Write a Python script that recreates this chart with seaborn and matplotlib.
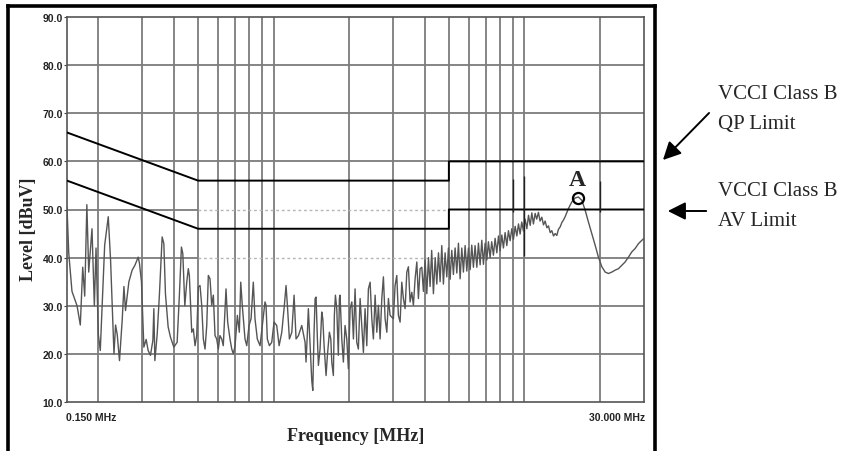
import matplotlib
matplotlib.use("Agg")
import matplotlib.pyplot as plt
from matplotlib.lines import Line2D
from matplotlib.ticker import NullLocator
import pandas as pd
import seaborn as sns

# ---------------- data ----------------
seg_a_freq = [0.150, 0.1524, 0.157, 0.162, 0.1645, 0.1695, 0.1733, 0.1765, 0.180, 0.1831,
              0.1887, 0.1928, 0.1958, 0.200, 0.2036, 0.212, 0.2191, 0.2238, 0.2309, 0.2343,
              0.2379, 0.2429, 0.249, 0.253, 0.2567, 0.2648, 0.2729, 0.2798, 0.2884, 0.2918,
              0.2972, 0.3038, 0.3103, 0.3160, 0.3228, 0.3300, 0.3330, 0.3361, 0.3433, 0.3506,
              0.3594, 0.3650, 0.3704, 0.3797, 0.3878, 0.400, 0.4124, 0.4212, 0.4290, 0.4345,
              0.4425]
seg_a_level = [50.5, 41, 33, 31, 30, 26, 38, 32, 51, 37,
               46, 30, 42, 24, 20.7, 42.6, 48.5, 39.5, 20, 26,
               24, 18.6, 27, 34, 29, 35, 37.4, 38.4, 40.1, 38.8,
               35, 21.4, 23, 20.7, 19.7, 22.8, 29.4, 18.6, 24, 32.5,
               44.3, 42.9, 32.5, 25.6, 23.5, 21.4, 22.4, 32.5, 42.2, 40.8,
               30]

seg_b_freq = [0.4504, 0.457, 0.4613, 0.4715, 0.4785, 0.486, 0.4936, 0.501, 0.5088, 0.5168,
              0.5245, 0.5328, 0.5412, 0.5492, 0.5577, 0.5665, 0.575, 0.584, 0.593, 0.602,
              0.611, 0.621, 0.630, 0.646, 0.656, 0.670, 0.681, 0.691, 0.702, 0.717,
              0.730, 0.7395, 0.750, 0.769, 0.7815, 0.798, 0.813, 0.830, 0.843, 0.861,
              0.883, 0.905, 0.924, 0.933, 0.944, 0.962, 0.983, 1.004, 1.029, 1.052,
              1.078, 1.104, 1.121, 1.135, 1.156, 1.182, 1.207, 1.229, 1.256, 1.295]
seg_b_level = [34.9, 37.7, 36.3, 24.5, 25.2, 21.7, 23.8, 33.9, 34.2, 30.1,
               23.1, 21.0, 25.9, 36.3, 35.6, 30.1, 32.2, 23.8, 23.1, 21.0,
               23.8, 23.1, 21.7, 33.5, 26.6, 23.1, 21.0, 20.0, 21.7, 28.0,
               24.5, 34.9, 30.1, 23.1, 21.7, 25.9, 27.3, 34.9, 27.3, 23.1,
               21.7, 26.6, 30.8, 30.1, 23.1, 21.7, 22.4, 26.6, 25.9, 21.7,
               24.5, 30.1, 34.2, 30.1, 23.1, 24.5, 32.2, 23.1, 23.8, 25.9]

seg_c_freq = [1.335, 1.347, 1.364, 1.376, 1.398, 1.420, 1.433, 1.450, 1.464, 1.477,
              1.495, 1.509, 1.532, 1.556, 1.571, 1.590, 1.619, 1.639, 1.669, 1.691,
              1.706, 1.731, 1.747, 1.764, 1.786, 1.812, 1.830, 1.841, 1.870, 1.898,
              1.927, 1.958, 1.987, 2.019, 2.051, 2.081, 2.113, 2.146, 2.178, 2.213,
              2.247, 2.281, 2.316, 2.353, 2.388, 2.426, 2.464, 2.500, 2.540, 2.580,
              2.618, 2.659, 2.701, 2.741, 2.784, 2.828, 2.870, 2.915, 3.004, 3.051,
              3.099, 3.145, 3.195, 3.245, 3.293, 3.345, 3.398, 3.448, 3.502, 3.557,
              3.610, 3.667, 3.725, 3.780, 3.839]
seg_c_level = [22.4, 18.3, 24.5, 29.4, 21.7, 14.4, 12.4, 24.5, 31.5, 31.8,
               23.1, 17.6, 21.0, 28.7, 27.3, 21.7, 15.5, 19.7, 24.5, 23.1,
               18.3, 15.5, 28.0, 32.2, 29.4, 19.7, 31.5, 32.2, 23.1, 18.3,
               25.9, 23.1, 16.9, 29.4, 30.8, 23.1, 33.5, 22.4, 21.0, 31.5,
               25.9, 20.3, 29.4, 21.7, 33.5, 34.9, 27.3, 23.1, 32.2, 24.5,
               30.1, 23.1, 31.5, 36.0, 27.3, 24.5, 31.5, 28.0, 27.3, 34.2,
               36.3, 28.0, 26.6, 34.9, 31.5, 29.4, 37.0, 38.1, 30.8, 32.8,
               30.1, 35.6, 39.1, 31.5, 37.7]

seg_d_freq = [3.90, 3.957, 4.02, 4.083, 4.145, 4.208, 4.27, 4.338, 4.41, 4.475,
              4.545, 4.613, 4.685, 4.755, 4.83, 4.905, 4.98, 5.057, 5.135, 5.213,
              5.295, 5.378, 5.46, 5.544, 5.63, 5.715, 5.805, 5.895, 5.985, 6.078,
              6.17, 6.264, 6.36, 6.463, 6.56, 6.663, 6.765, 6.867, 6.975, 7.085,
              7.19, 7.302, 7.41, 7.527, 7.645, 7.766, 7.885, 8.004, 8.13, 8.252,
              8.38, 8.513, 8.64, 8.774, 8.91, 9.045, 9.19, 9.332, 9.475, 9.618,
              9.765, 9.915, 10.07, 10.23, 10.39, 10.55, 10.71, 10.87]
seg_d_level = [38.0, 33.0, 39.5, 32.5, 40.0, 34.0, 41.5, 32.5, 40.0, 34.5,
               41.0, 35.0, 42.5, 34.5, 41.0, 36.0, 42.0, 35.5, 41.5, 36.5,
               42.0, 36.8, 43.0, 35.6, 42.0, 37.0, 42.5, 37.2, 42.0, 37.5,
               42.6, 38.0, 42.5, 38.0, 43.0, 38.5, 43.6, 38.6, 43.0, 39.5,
               43.3, 40.0, 43.3, 40.5, 44.0, 41.0, 44.5, 41.4, 44.7, 42.0,
               45.2, 42.5, 45.6, 43.5, 46.0, 43.8, 46.5, 44.5, 47.0, 44.9,
               47.4, 45.5, 48.0, 46.0, 48.8, 46.7, 49.3, 47.0]

seg_e_freq = [11.04, 11.2, 11.38, 11.55, 11.74, 11.92, 12.10, 12.3, 12.48, 12.68,
              12.87, 13.07, 13.27, 13.47, 13.68, 13.9, 14.11, 14.32, 14.54, 14.99,
              15.47, 15.94, 16.43, 16.95, 17.47, 18.01, 18.58, 19.15, 19.74, 20.37,
              21.0, 21.65, 22.33, 23.02, 23.73, 24.48, 25.23, 26.01, 26.83, 27.66,
              28.51, 29.41, 30.0]
seg_e_level = [49.2, 48.0, 49.4, 47.6, 48.4, 46.8, 47.6, 46.2, 46.6, 45.2,
               45.6, 44.5, 45.0, 44.6, 45.9, 46.4, 47.3, 47.8, 48.5, 50.2,
               51.6, 52.4, 52.6, 51.9, 49.9, 47.4, 45.0, 42.6, 40.1, 38.1,
               37.0, 36.7, 37.0, 37.4, 37.7, 38.4, 39.1, 40.1, 41.2, 41.9,
               42.9, 43.6, 44.0]

qp_freq = [0.15, 0.5, 5.0, 5.0, 30.0]
qp_level = [66.0, 56.0, 56.0, 60.0, 60.0]
av_freq = [0.15, 0.5, 5.0, 5.0, 30.0]
av_level = [56.0, 46.0, 46.0, 50.0, 50.0]

marker_freq = 16.3
marker_level = 52.3
marker_label = "A"

grid_freqs = [0.2, 0.3, 0.4, 0.5, 0.6, 0.7, 0.8, 0.9, 1.0,
              2, 3, 4, 5, 6, 7, 8, 9, 10, 20]
y_ticks = [10, 20, 30, 40, 50, 60, 70, 80, 90]
y_tick_labels = ["10.0", "20.0", "30.0", "40.0", "50.0", "60.0", "70.0", "80.0", "90.0"]

dark_seg_freq = [9.0, 10.0, 20.0]
dark_seg_lo = [49.5, 40.3, 49.5]
dark_seg_hi = [56.3, 57.0, 56.0]

# ---------------- figure ----------------
sns.set_style("white")
plt.rcParams["font.family"] = ["Liberation Sans", "DejaVu Sans"]

W, H = 848, 452
fig = plt.figure(figsize=(W / 100, H / 100), dpi=100)
fig.patch.set_facecolor("white")
ax = fig.add_axes([67 / W, 49 / H, 577 / W, 385 / H])
ax.set_xscale("log")
ax.set_xlim(0.15, 30)
ax.set_ylim(10, 90)

gcol = "#7c7c7c"
ax.vlines(grid_freqs, 10, 90, colors=gcol, lw=1.3, zorder=1)
ax.hlines([20, 30, 60, 70, 80], 0.15, 30, colors=gcol, lw=1.3, zorder=1)
ax.hlines([40, 50], 0.15, 0.5, colors=gcol, lw=1.3, zorder=1)
ax.hlines([40], 5, 30, colors=gcol, lw=1.3, zorder=1)
ax.hlines([40, 50], 0.5, 5, colors="#b5b5b5", lw=1.0, linestyles=(0, (2, 2)), zorder=1)

trace = pd.DataFrame({
    "freq": seg_a_freq + seg_b_freq + seg_c_freq + seg_d_freq + seg_e_freq,
    "level": seg_a_level + seg_b_level + seg_c_level + seg_d_level + seg_e_level,
})
sns.lineplot(data=trace, x="freq", y="level", ax=ax, color="#555555", lw=1.0,
             sort=False, estimator=None, zorder=3)

limits = pd.DataFrame({"freq": qp_freq, "level": qp_level})
sns.lineplot(data=limits, x="freq", y="level", ax=ax, color="black", lw=1.4,
             sort=False, estimator=None, zorder=4)
limits_av = pd.DataFrame({"freq": av_freq, "level": av_level})
sns.lineplot(data=limits_av, x="freq", y="level", ax=ax, color="black", lw=1.4,
             sort=False, estimator=None, zorder=4)

ax.vlines(dark_seg_freq, dark_seg_lo, dark_seg_hi, colors="#222222", lw=1.0, zorder=4)

ax.plot([marker_freq], [marker_level], "o", ms=8, mfc="none", mec="black", mew=1.6, zorder=5)
ax.text(marker_freq, 54.0, marker_label, ha="center", va="bottom", fontsize=17,
        fontweight="bold", family=["Liberation Serif", "DejaVu Serif"], zorder=5)

# axes styling
ax.set_xlabel("")
ax.set_ylabel("")
ax.set_xticks([])
ax.xaxis.set_minor_locator(NullLocator())
ax.set_yticks(y_ticks)
ax.set_yticklabels(y_tick_labels)
ax.tick_params(axis="y", length=2, width=0.8, color="#444", pad=1, labelsize=7.5,
               labelcolor="#222222", left=True)
for lab in ax.get_yticklabels():
    lab.set_fontweight("bold")
for sp in ax.spines.values():
    sp.set_color("#555555")
    sp.set_linewidth(1.2)
    sp.set_visible(True)

ax.text(0.15 * 0.995, 8.0, "0.150 MHz", ha="left", va="top", fontsize=7.5,
        color="#222222", fontweight="bold")
ax.text(30.0 * 1.015, 8.0, "30.000 MHz", ha="right", va="top", fontsize=7.5,
        color="#222222", fontweight="bold")

serif = ["Liberation Serif", "DejaVu Serif"]
fig.text(28 / W, 1 - 229 / H, "Level [dBuV]", rotation=90, ha="center", va="center",
         fontsize=13, fontweight="bold", family=serif)
fig.text(356 / W, 1 - 437 / H, "Frequency [MHz]", ha="center", va="center",
         fontsize=13, fontweight="bold", family=serif)

# right-side annotations
for txt, ypx in [("VCCI Class B", 94.5), ("QP Limit", 124.5),
                 ("VCCI Class B", 191.5), ("AV Limit", 221.5)]:
    fig.text(718 / W, 1 - ypx / H, txt, ha="left", va="center", fontsize=15, family=serif)

def px(x, y):
    return (x / W, 1 - y / H)

for start, end in [((711, 112), (661, 163)), ((709, 212), (665, 212))]:
    fig.add_artist(matplotlib.patches.FancyArrowPatch(
        px(*start), px(*end), transform=fig.transFigure,
        arrowstyle="-|>,head_length=0.6,head_width=0.3",
        mutation_scale=18, lw=1.4, color="black"))

# outer frame
for (x0, y0), (x1, y1) in [((8, 7), (655, 7)), ((8, 7), (8, 452)), ((655, 7), (655, 452))]:
    fig.add_artist(Line2D([x0 / W, x1 / W], [1 - y0 / H, 1 - y1 / H],
                          transform=fig.transFigure, color="black", lw=2.6,
                          solid_capstyle="projecting"))

fig.savefig("out.png", dpi=100, facecolor="white")
